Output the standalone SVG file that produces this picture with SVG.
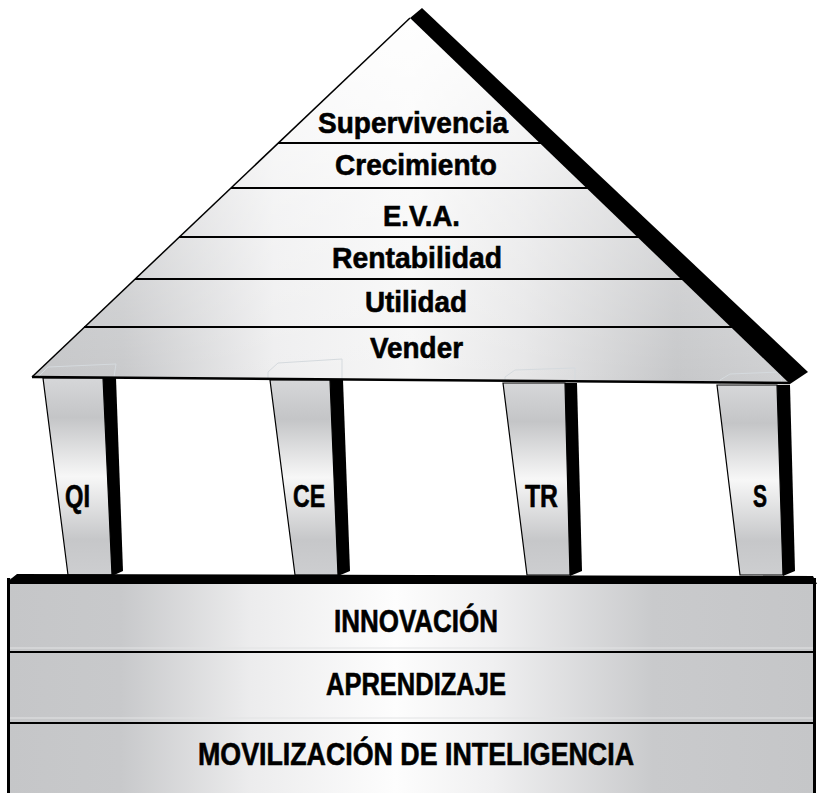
<svg xmlns="http://www.w3.org/2000/svg" width="818" height="793" viewBox="0 0 818 793">
<defs>
<linearGradient id="gRoof" gradientUnits="userSpaceOnUse" x1="32" y1="0" x2="790" y2="0">
<stop offset="0" stop-color="#c4c5c7"/>
<stop offset="0.12" stop-color="#c8c9cb"/>
<stop offset="0.32" stop-color="#eeeeef"/>
<stop offset="0.5" stop-color="#f6f6f6"/>
<stop offset="0.65" stop-color="#e6e6e7"/>
<stop offset="0.85" stop-color="#c6c7c9"/>
<stop offset="1" stop-color="#cfd0d2"/>
</linearGradient>
<linearGradient id="gRoofV" gradientUnits="userSpaceOnUse" x1="0" y1="18" x2="0" y2="383">
<stop offset="0" stop-color="#ffffff" stop-opacity="0.9"/>
<stop offset="0.5" stop-color="#ffffff" stop-opacity="0.35"/>
<stop offset="1" stop-color="#ffffff" stop-opacity="0"/>
</linearGradient>
<linearGradient id="gBase" gradientUnits="userSpaceOnUse" x1="8" y1="0" x2="815" y2="0">
<stop offset="0" stop-color="#c5c6c8"/>
<stop offset="0.14" stop-color="#c8c9cb"/>
<stop offset="0.3" stop-color="#ececed"/>
<stop offset="0.48" stop-color="#fdfdfd"/>
<stop offset="0.6" stop-color="#f0f0f1"/>
<stop offset="0.8" stop-color="#c9cacc"/>
<stop offset="1" stop-color="#c5c6c8"/>
</linearGradient>
<linearGradient id="gPillar" x1="0" y1="0" x2="0" y2="1">
<stop offset="0" stop-color="#d6d7d9"/>
<stop offset="0.2" stop-color="#c4c5c7"/>
<stop offset="0.5" stop-color="#f7f7f7"/>
<stop offset="0.82" stop-color="#c6c7c9"/>
<stop offset="1" stop-color="#cdced0"/>
</linearGradient>
</defs>
<style>
.t{font-family:"Liberation Sans",Arial,sans-serif;font-weight:bold;font-size:30px;fill:#000;stroke:#000;stroke-width:0.6}
.b{font-size:31px}
.face{fill:url(#gPillar);stroke:#000;stroke-width:1.2}
.blk{fill:#000}
.ln{stroke:#000;stroke-width:2.2;fill:none}
.faint{fill:none;stroke:#d5dade;stroke-width:1}
</style>

<g id="pillars">
<g id="pillar-QI">
<polygon class="face" points="43,378 103,378 112,575 68,575"/>
<polygon class="blk" points="103,378 116,378 123,571 112,576"/>
<text class="t b" x="65" y="507" textLength="25" lengthAdjust="spacingAndGlyphs">QI</text>
</g>
<g id="pillar-CE">
<polygon class="face" points="270,380 330,380 338,575 295,575"/>
<polygon class="blk" points="330,380 343,380 350,571 338,576"/>
<text class="t b" x="293" y="507" textLength="32" lengthAdjust="spacingAndGlyphs">CE</text>
</g>
<g id="pillar-TR">
<polygon class="face" points="503,383 565,383 570,575 527,575"/>
<polygon class="blk" points="565,383 577,383 582,571 570,576"/>
<text class="t b" x="525" y="507" textLength="33" lengthAdjust="spacingAndGlyphs">TR</text>
</g>
<g id="pillar-S">
<polygon class="face" points="717,385 777,385 783,575 740,575"/>
<polygon class="blk" points="777,385 790,385 795,571 783,576"/>
<text class="t b" x="753" y="507" textLength="14" lengthAdjust="spacingAndGlyphs">S</text>
</g>
</g>

<g id="roof">
<polygon points="410,18 790,383 32,377" fill="url(#gRoof)"/>
<polygon points="410,18 790,383 32,377" fill="url(#gRoofV)"/>
<polyline class="faint" points="38,377 48,367 116,364 114,377"/>
<polyline class="faint" points="268,378 268,372 278,363 342,359 342,379"/>
<polyline class="faint" points="505,381 505,377 515,370 575,368 575,382"/>
<polyline class="faint" points="720,384 720,380 730,374 780,372 782,384"/>
<line class="ln" x1="278" y1="143" x2="548" y2="143"/>
<line class="ln" x1="231" y1="188" x2="595" y2="188"/>
<line class="ln" x1="179" y1="237" x2="646" y2="237"/>
<line class="ln" x1="135" y1="279" x2="690" y2="279"/>
<line class="ln" x1="84" y1="327" x2="740" y2="327"/>
<line x1="410" y1="18" x2="32" y2="377" stroke="#000" stroke-width="1.5"/>
<line x1="32" y1="377" x2="790" y2="383" stroke="#000" stroke-width="2.4"/>
<polygon class="blk" points="410,18 422,8 808,372 790,384"/>
<text class="t" x="318" y="133" textLength="190" lengthAdjust="spacingAndGlyphs">Supervivencia</text>
<text class="t" x="335" y="175" textLength="162" lengthAdjust="spacingAndGlyphs">Crecimiento</text>
<text class="t" x="383" y="226" textLength="77" lengthAdjust="spacingAndGlyphs">E.V.A.</text>
<text class="t" x="332" y="268" textLength="170" lengthAdjust="spacingAndGlyphs">Rentabilidad</text>
<text class="t" x="365" y="312" textLength="102" lengthAdjust="spacingAndGlyphs">Utilidad</text>
<text class="t" x="370" y="358" textLength="93" lengthAdjust="spacingAndGlyphs">Vender</text>
</g>

<g id="base">
<rect x="8" y="578" width="807" height="220" fill="url(#gBase)"/>
<line x1="9" y1="648" x2="814" y2="648" stroke="#e2e3e4" stroke-width="1"/>
<line x1="9" y1="718" x2="814" y2="718" stroke="#e2e3e4" stroke-width="1"/>
<line class="ln" x1="8" y1="652" x2="815" y2="652" stroke-width="2.6"/>
<line class="ln" x1="8" y1="723" x2="815" y2="723" stroke-width="2.6"/>
<line x1="8.5" y1="578" x2="8.5" y2="793" stroke="#000" stroke-width="3"/>
<line x1="814.5" y1="578" x2="814.5" y2="793" stroke="#000" stroke-width="3"/>
<polygon class="blk" points="7,582 17,574 813,576 817,584 7,584"/>
<text class="t b" x="334" y="632" textLength="164" lengthAdjust="spacingAndGlyphs">INNOVACIÓN</text>
<text class="t b" x="326" y="695" textLength="180" lengthAdjust="spacingAndGlyphs">APRENDIZAJE</text>
<text class="t b" x="198" y="765" textLength="436" lengthAdjust="spacingAndGlyphs">MOVILIZACIÓN DE INTELIGENCIA</text>
</g>
</svg>
